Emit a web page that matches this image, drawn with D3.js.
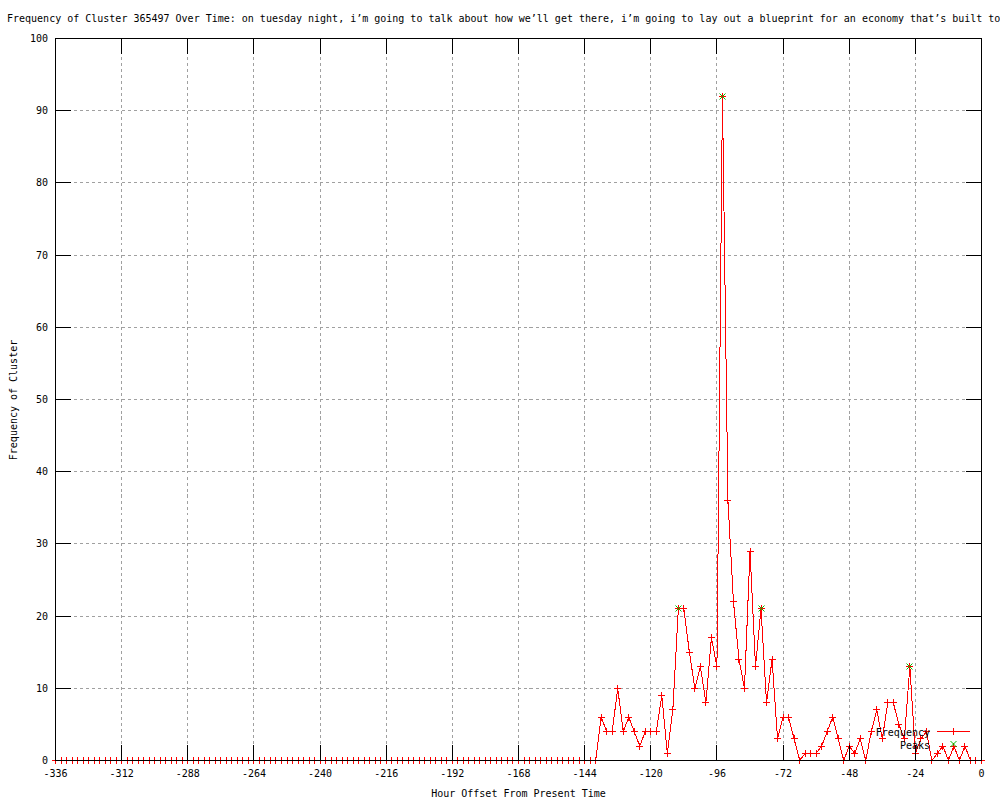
<!DOCTYPE html>
<html>
<head>
<meta charset="utf-8">
<script src="https://cdn.jsdelivr.net/npm/d3@7"></script>
<style>
  body { margin: 0; background: #fff; }
  text { font-family: "DejaVu Sans Mono", monospace; font-size: 10px; fill: #000; }
</style>
</head>
<body>
<div id="wrapper"></div>
<script>
const titleText = "Frequency of Cluster 365497 Over Time: on tuesday night, i\u2019m going to talk about how we\u2019ll get there, i\u2019m going to lay out a blueprint for an economy that\u2019s built to"
const xLabel = "Hour Offset From Present Time"
const yLabel = "Frequency of Cluster"

const hours = [
  -336,-334,-332,-330,-328,-326,-324,-322,-320,-318,-316,-314,
  -312,-310,-308,-306,-304,-302,-300,-298,-296,-294,-292,-290,
  -288,-286,-284,-282,-280,-278,-276,-274,-272,-270,-268,-266,
  -264,-262,-260,-258,-256,-254,-252,-250,-248,-246,-244,-242,
  -240,-238,-236,-234,-232,-230,-228,-226,-224,-222,-220,-218,
  -216,-214,-212,-210,-208,-206,-204,-202,-200,-198,-196,-194,
  -192,-190,-188,-186,-184,-182,-180,-178,-176,-174,-172,-170,
  -168,-166,-164,-162,-160,-158,-156,-154,-152,-150,-148,-146,
  -144,-142,-140,
  -138,-136,-134,-132,-130,-128,-126,-124,-122,-120,-118,-116,
  -114,-112,-110,-108,-106,-104,-102,-100,-98,-96,-94,-92,
  -90,-88,-86,-84,-82,-80,-78,-76,-74,-72,-70,-68,
  -66,-64,-62,-60,-58,-56,-54,-52,-50,-48,-46,-44,
  -42,-40,-38,-36,-34,-32,-30,-28,-26,-24,-22,-20,
  -18,-16,-14,-12,-10,-8,-6,-4,-2,0
]
const frequency = [
  0,0,0,0,0,0,0,0,0,0,0,0,
  0,0,0,0,0,0,0,0,0,0,0,0,
  0,0,0,0,0,0,0,0,0,0,0,0,
  0,0,0,0,0,0,0,0,0,0,0,0,
  0,0,0,0,0,0,0,0,0,0,0,0,
  0,0,0,0,0,0,0,0,0,0,0,0,
  0,0,0,0,0,0,0,0,0,0,0,0,
  0,0,0,0,0,0,0,0,0,0,0,0,
  0,0,0,
  6,4,4,10,4,6,4,2,4,4,4,9,
  1,7,21,21,15,10,13,8,17,13,92,36,
  22,14,10,29,13,21,8,14,3,6,6,3,
  0,1,1,1,2,4,6,3,0,2,1,3,
  0,4,7,3,8,8,5,3,13,1,3,4,
  0,1,2,0,2,0,2,0,0,0
]
const peakHours = [-110, -94, -80, -26]
const peakValues = [21, 92, 21, 13]

const xTicks = [-336,-312,-288,-264,-240,-216,-192,-168,-144,-120,-96,-72,-48,-24,0]
const yTicks = [0,10,20,30,40,50,60,70,80,90,100]

const dimensions = {
  width: 1000,
  height: 800,
  margin: { top: 38, right: 18, bottom: 40, left: 55 },
}
dimensions.boundedWidth = dimensions.width - dimensions.margin.left - dimensions.margin.right
dimensions.boundedHeight = dimensions.height - dimensions.margin.top - dimensions.margin.bottom

const dataset = hours.map((h, i) => ({ hour: h, value: frequency[i] }))
const peaks = peakHours.map((h, i) => ({ hour: h, value: peakValues[i] }))

const svg = d3.select("#wrapper").append("svg")
  .attr("width", dimensions.width)
  .attr("height", dimensions.height)
  .style("display", "block")

svg.append("rect").attr("width", dimensions.width).attr("height", dimensions.height).attr("fill", "#fff")

const bounds = svg.append("g")
  .attr("transform", `translate(${dimensions.margin.left},${dimensions.margin.top})`)

const xScale = d3.scaleLinear().domain([-336, 0]).range([0.5, dimensions.boundedWidth - 0.5])
const yScale = d3.scaleLinear().domain([0, 100]).range([dimensions.boundedHeight + 0.5, 0.5])
const sx = d => Math.round(xScale(d) - 0.5) + 0.5
const sy = d => Math.round(yScale(d) - 0.5) + 0.5

// grid (dotted, behind everything)
const gridPath = d3.path()
xTicks.slice(1, -1).forEach(d => { gridPath.moveTo(sx(d), yScale(100)); gridPath.lineTo(sx(d), yScale(0)) })
yTicks.slice(1, -1).forEach(d => { gridPath.moveTo(xScale(-336), sy(d)); gridPath.lineTo(xScale(0), sy(d)) })
bounds.append("path")
  .attr("d", gridPath.toString())
  .attr("fill", "none")
  .attr("stroke", "#a0a0a0")
  .attr("stroke-dasharray", "3,3")
  .attr("shape-rendering", "crispEdges")

// data line
const lineGenerator = d3.line()
  .x(d => xScale(d.hour))
  .y(d => yScale(d.value))
bounds.append("path")
  .attr("d", lineGenerator(dataset))
  .attr("fill", "none")
  .attr("stroke", "#ff0000")
  .attr("stroke-width", 1)
  .attr("shape-rendering", "crispEdges")

const plusPath = "M-3.5,0H3.5M0,-3.5V3.5"
const xPath = "M-3,-3L3,3M-3,3L3,-3"

bounds.append("g").selectAll("path").data(dataset).join("path")
  .attr("d", plusPath)
  .attr("transform", d => `translate(${sx(d.hour)},${sy(d.value)})`)
  .attr("stroke", "#ff0000").attr("fill", "none").attr("shape-rendering", "crispEdges")

bounds.append("g").selectAll("path").data(peaks).join("path")
  .attr("d", xPath)
  .attr("transform", d => `translate(${sx(d.hour)},${sy(d.value)})`)
  .attr("stroke", "#00c000").attr("fill", "none")

// legend
const legend = svg.append("g")
legend.append("text").attr("x", 930).attr("y", 736).attr("text-anchor", "end").text("Frequency")
legend.append("line").attr("x1", 937).attr("x2", 970).attr("y1", 731.5).attr("y2", 731.5)
  .attr("stroke", "#ff0000").attr("shape-rendering", "crispEdges")
legend.append("path").attr("d", plusPath).attr("transform", "translate(953.5,731.5)")
  .attr("stroke", "#ff0000").attr("fill", "none").attr("shape-rendering", "crispEdges")
legend.append("text").attr("x", 930).attr("y", 749).attr("text-anchor", "end").text("Peaks")
legend.append("path").attr("d", xPath).attr("transform", "translate(953.5,744)")
  .attr("stroke", "#00c000").attr("fill", "none")

// border and ticks (mirrored on all four sides)
const tickLen = 16
const plotLeft = Math.floor(xScale(-336)), plotRight = Math.floor(xScale(0))
const plotBottom = Math.floor(yScale(0)), plotTop = Math.floor(yScale(100))
const frame = svg.append("g")
  .attr("transform", `translate(${dimensions.margin.left},${dimensions.margin.top})`)
frame.append("rect")
  .attr("x", plotLeft + 0.5).attr("y", plotTop + 0.5)
  .attr("width", plotRight - plotLeft).attr("height", plotBottom - plotTop)
  .attr("fill", "none").attr("stroke", "#000").attr("shape-rendering", "crispEdges")
xTicks.forEach(d => {
  const x = Math.floor(sx(d))
  frame.append("rect").attr("x", x).attr("y", plotBottom - tickLen + 1).attr("width", 1).attr("height", tickLen).attr("fill", "#000")
  frame.append("rect").attr("x", x).attr("y", plotTop).attr("width", 1).attr("height", tickLen).attr("fill", "#000")
})
yTicks.forEach(d => {
  const y = Math.floor(sy(d))
  frame.append("rect").attr("x", plotLeft).attr("y", y).attr("width", tickLen).attr("height", 1).attr("fill", "#000")
  frame.append("rect").attr("x", plotRight - tickLen + 1).attr("y", y).attr("width", tickLen).attr("height", 1).attr("fill", "#000")
})

// tick labels
bounds.append("g").selectAll("text").data(xTicks).join("text")
  .attr("x", d => xScale(d)).attr("y", dimensions.boundedHeight + 17)
  .attr("text-anchor", "middle").text(d => d)
bounds.append("g").selectAll("text").data(yTicks).join("text")
  .attr("x", -7).attr("y", d => yScale(d) + 3.5)
  .attr("text-anchor", "end").text(d => d)

// titles
svg.append("text").attr("x", 7).attr("y", 22).text(titleText)
svg.append("text").attr("x", 518.5).attr("y", 797).attr("text-anchor", "middle").text(xLabel)
svg.append("text").attr("transform", "translate(17,400) rotate(-90)")
  .attr("text-anchor", "middle").text(yLabel)
</script>
</body>
</html>
